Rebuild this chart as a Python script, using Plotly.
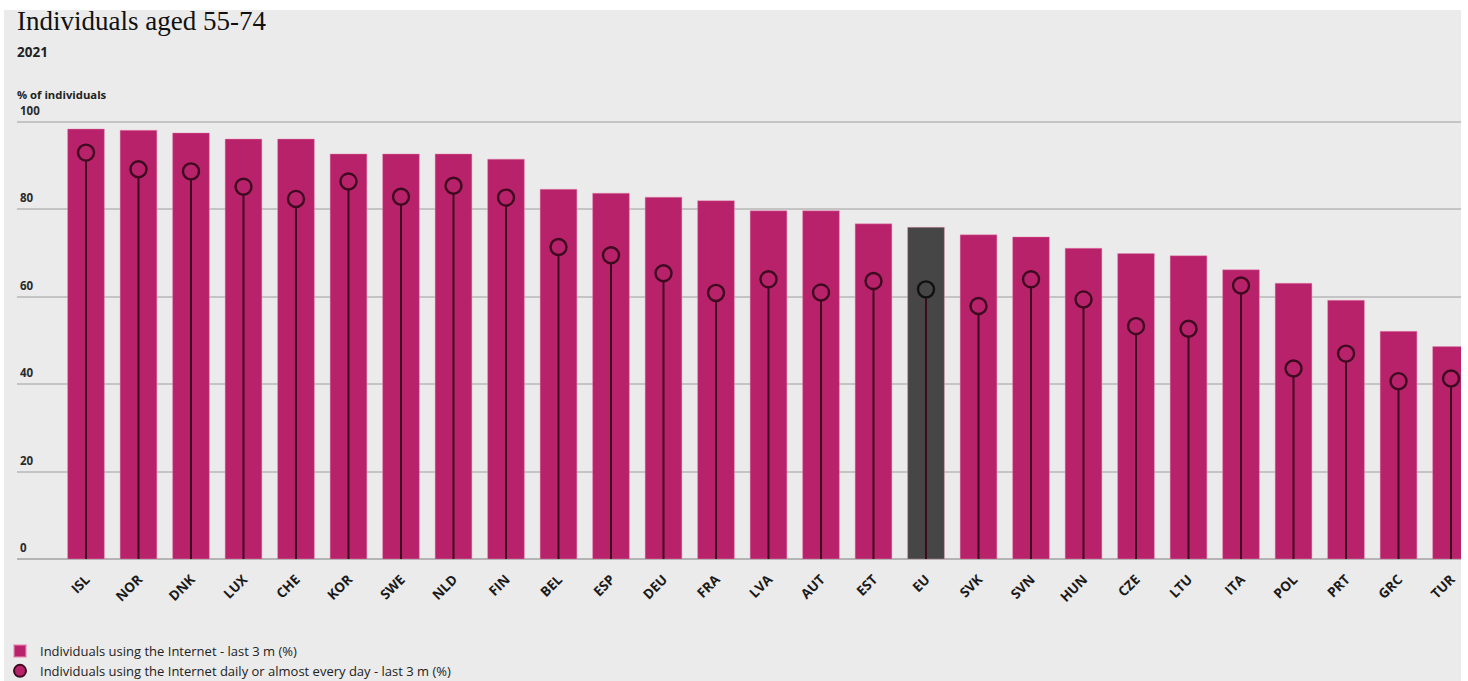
import plotly.graph_objects as go

# Internet use among people aged 55-74, 2021 (% of individuals)
countries = ["ISL", "NOR", "DNK", "LUX", "CHE", "KOR", "SWE", "NLD", "FIN", "BEL",
             "ESP", "DEU", "FRA", "LVA", "AUT", "EST", "EU", "SVK", "SVN", "HUN",
             "CZE", "LTU", "ITA", "POL", "PRT", "GRC", "TUR"]
last_3m = [98.4, 98.1, 97.5, 96.1, 96.1, 92.7, 92.7, 92.7, 91.5, 84.6,
           83.7, 82.8, 82.0, 79.7, 79.7, 76.7, 75.9, 74.2, 73.7, 71.1,
           69.9, 69.4, 66.2, 63.1, 59.2, 52.1, 48.6]
daily_3m = [93.0, 89.2, 88.7, 85.2, 82.4, 86.4, 82.9, 85.4, 82.7, 71.4,
            69.5, 65.4, 60.9, 64.0, 61.0, 63.6, 61.7, 57.9, 64.0, 59.4,
            53.3, 52.7, 62.6, 43.6, 47.0, 40.7, 41.3]
y_ticks = [0, 20, 40, 60, 80, 100]

MAGENTA = "#b8226a"
STEM = "#3e0a20"
EU_BAR = "#464646"
BG = "#ebebeb"

W, H = 1468, 681
ML, MR, MT, MB = 17, 7, 100, 122
plot_h = H - MT - MB
plot_w = W - ML - MR
PX_PER_UNIT = 4.37

bar_colors = [EU_BAR if c == "EU" else MAGENTA for c in countries]
dot_fill = [EU_BAR if c == "EU" else MAGENTA for c in countries]
dot_line = ["#111111" if c == "EU" else STEM for c in countries]


def py(px):
    """Pixel row (from the top of the page) to paper y."""
    return ((H - MB) - px) / plot_h


def px_x(px):
    """Pixel column to paper x."""
    return (px - ML) / plot_w


fig = go.Figure()

fig.add_trace(go.Bar(
    x=countries, y=last_3m,
    name="Individuals using the Internet - last 3 m (%)",
    marker=dict(color=bar_colors, line=dict(color="rgba(235,140,180,0.55)", width=0.8)),
    width=0.70,
    hoverinfo="x+y",
))

# lollipop: error bar running from the dot down to zero acts as the stem
fig.add_trace(go.Scatter(
    x=countries, y=daily_3m,
    mode="markers",
    name="Individuals using the Internet daily or almost every day - last 3 m (%)",
    marker=dict(symbol="circle", size=16, color=dot_fill,
                line=dict(color=dot_line, width=2.4)),
    error_y=dict(type="data", symmetric=False, array=[0] * len(daily_3m),
                 arrayminus=daily_3m, color=STEM, thickness=2, width=0),
))

fig.update_layout(
    width=W, height=H,
    margin=dict(l=ML, r=MR, t=MT, b=MB, autoexpand=False),
    paper_bgcolor=BG,
    plot_bgcolor=BG,
    barmode="overlay",
    font=dict(family="Open Sans, sans-serif", color="#222222"),
    title=dict(text="Individuals aged 55-74", x=ML / W, xanchor="left",
               y=1 - 11 / H, yanchor="top", xref="container", yref="container",
               font=dict(family="Liberation Serif, serif", size=27, color="#111111")),
    xaxis=dict(
        type="category",
        range=[-1.314, 26.19],
        tickangle=-45,
        tickfont=dict(size=13.5, weight="bold", color="#1a1a1a"),
        ticklabelstandoff=9,
        showgrid=False, showline=False, ticks="",
        automargin=False,
    ),
    yaxis=dict(
        range=[0, plot_h / PX_PER_UNIT],
        tickvals=y_ticks,
        ticklabelposition="inside top",
        ticklabelshift=-3,
        tickfont=dict(size=11.5, weight="bold", color="#2a2a2a"),
        showgrid=True, gridcolor="#c4c4c4", gridwidth=1.5,
        zeroline=True, zerolinecolor="#b4b4b4", zerolinewidth=1.5,
        showline=False, ticks="",
        automargin=False,
    ),
    showlegend=True,
    legend=dict(
        orientation="v",
        x=px_x(0), xanchor="left",
        y=py(636), yanchor="top",
        bgcolor="rgba(0,0,0,0)",
        font=dict(size=13, color="#222222"),
        itemsizing="constant",
        tracegroupgap=0,
    ),
    annotations=[
        dict(text="<b>2021</b>", xref="paper", yref="paper",
             x=px_x(15), y=py(52), xanchor="left", yanchor="middle",
             showarrow=False, font=dict(size=13.5, color="#222222")),
        dict(text="<b>% of individuals</b>", xref="paper", yref="paper",
             x=px_x(15), y=py(95), xanchor="left", yanchor="middle",
             showarrow=False, font=dict(size=11.3, color="#222222")),
    ],
    shapes=[
        # white frame along the top, right and left edges
        dict(type="rect", xref="paper", yref="paper", layer="below",
             x0=px_x(0), x1=px_x(W), y0=py(10), y1=py(0),
             fillcolor="white", line=dict(width=0)),
        dict(type="rect", xref="paper", yref="paper", layer="below",
             x0=px_x(1461), x1=px_x(W), y0=py(H), y1=py(0),
             fillcolor="white", line=dict(width=0)),
        dict(type="rect", xref="paper", yref="paper", layer="below",
             x0=px_x(0), x1=px_x(4), y0=py(H), y1=py(0),
             fillcolor="white", line=dict(width=0)),
    ],
)

fig.write_html("out.html")
